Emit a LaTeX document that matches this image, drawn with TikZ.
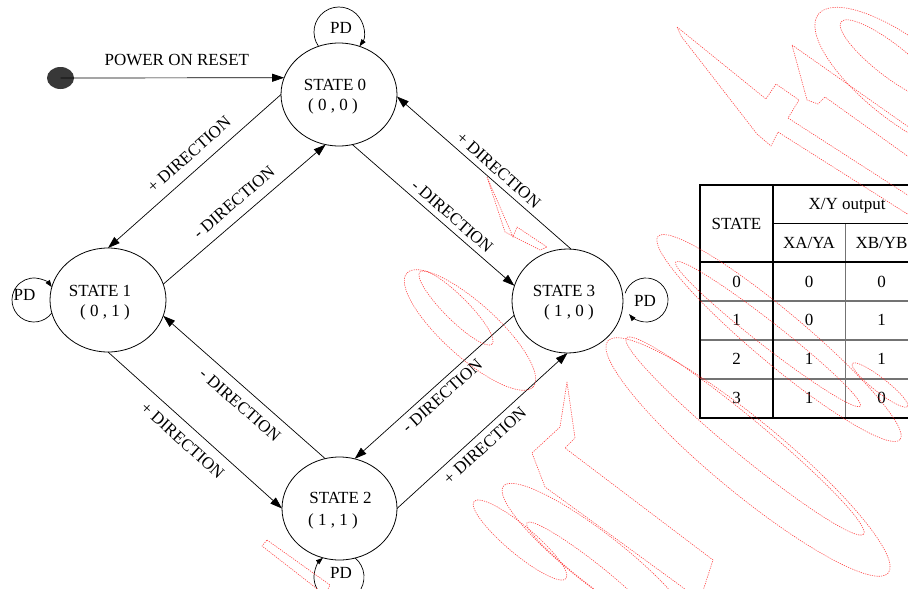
\documentclass[tikz,border=0pt]{standalone}
\usepackage{fontspec}
\setmainfont{Liberation Serif}
\usetikzlibrary{shapes.geometric,arrows.meta}
\newcommand{\diagfont}{\fontsize{17}{20}\selectfont}
\begin{document}
\begin{tikzpicture}[x=1pt,y=-1pt,
  state/.style={ellipse,draw,line width=0.8pt,inner sep=0pt,outer sep=0pt},
  txt/.style={font=\diagfont,inner sep=0pt,anchor=base},
  trans/.style={line width=0.7pt,-{Triangle[length=12pt,width=8pt]}},
  selfloop/.style={line width=0.7pt,-{Triangle[length=7pt,width=5pt]}},
  lblL/.style={font=\diagfont,sloped,inner sep=10pt},
  lblR/.style={font=\diagfont,sloped,inner sep=5.5pt},
  thickrule/.style={line width=1.6pt},
  thinrule/.style={line width=0.9pt},
  greyrule/.style={line width=1.4pt,draw=black!55},
  wm/.style={draw=red!85,line width=0.6pt,dash pattern=on 1.2pt off 1.1pt,opacity=0.85},
]
\useasboundingbox (0,0) rectangle (908,589);
\clip (0,0) rectangle (908,589);

% ---------------- states ----------------
\node[state,minimum width=116pt,minimum height=103pt] (s0) at (339,94.5) {};
\node[state,minimum width=116pt,minimum height=104pt] (s1) at (108,300) {};
\node[state,minimum width=115pt,minimum height=103pt] (s2) at (339.5,508.5) {};
\node[state,minimum width=111pt,minimum height=104pt] (s3) at (567.5,301) {};

\node[txt] (s0a) at (335,90) {STATE 0};
\node[txt] (s0b) at (333,110.5) {( 0 , 0 )};
\node[txt] (s1a) at (100,296.5) {STATE 1};
\node[txt] (s1b) at (105,316) {( 0 , 1 )};
\node[txt] (s2a) at (340.5,503.5) {STATE 2};
\node[txt] (s2b) at (333,525) {( 1 , 1 )};
\node[txt] (s3a) at (564,296.7) {STATE 3};
\node[txt] (s3b) at (569,316) {( 1 , 0 )};

% ---------------- initial pseudo state ----------------
\node[ellipse,fill=black!78,minimum width=27pt,minimum height=22pt,inner sep=0pt] (init) at (60.5,78) {};
\draw[trans] (init.center) -- node[font=\diagfont,pos=.52,above,inner sep=12pt] (por) {POWER ON RESET} (s0.163);

% ---------------- transitions ----------------
\draw[trans] (s0.180) -- node[lblL,pos=.47,above] (l01) {+ DIRECTION} (s1.90);
\draw[trans] (s1.16)  -- node[lblL,pos=.5,above]  (l10) {- DIRECTION} (s0.255);
\draw[trans] (s0.285) -- node[lblR,pos=.57,above] (l03) {- DIRECTION} (s3.164);
\draw[trans] (s3.86)  -- node[lblR,pos=.46,above] (l30) {+ DIRECTION} (s0.358);
\draw[trans] (s2.106) -- node[lblL,pos=.46,below] (l21) {- DIRECTION} (s1.344);
\draw[trans] (s1.270) -- node[lblL,pos=.49,below] (l12) {+ DIRECTION} (s2.180);
\draw[trans] (s3.195) -- node[lblR,pos=.5,below]  (l32) {- DIRECTION} (s2.73);
\draw[trans] (s2.0)   -- node[lblR,pos=.465,below,inner sep=6.5pt] (l23) {+ DIRECTION} (s3.270);

% ---------------- power-down self loops ----------------
\coordinate (pd0) at (339,32);
\coordinate (pd1) at (34,300);
\coordinate (pd2) at (339,577);
\coordinate (pd3) at (646,300);
\draw[selfloop] ([shift={(215:25pt)}]pd0) arc[start angle=215,end angle=-35,radius=25pt];
\draw[selfloop] ([shift={(-36:22pt)}]pd1) arc[start angle=-36,end angle=-324,radius=22pt];
\draw[selfloop] ([shift={(50:25pt)}]pd2) arc[start angle=50,end angle=-230,radius=25pt];
\draw[selfloop] ([shift={(162:22pt)}]pd3) arc[start angle=162,end angle=-140,radius=22pt];
\node[txt] (pd0t) at (341,34) {PD};
\node[txt] (pd1t) at (24.5,300.5) {PD};
\node[txt] (pd2t) at (341,578) {PD};
\node[txt] (pd3t) at (645,306.5) {PD};

% ---------------- output table ----------------
\draw[greyrule] (700,301) -- (918,301) (700,340) -- (918,340) (700,379) -- (918,379);
\draw[greyrule] (845.5,223) -- (845.5,418);
\draw[thinrule] (773,223) -- (918,223);
\draw[thickrule] (918,185) -- (700,185) -- (700,418) -- (918,418);
\draw[thickrule] (773,185) -- (773,418);
\draw[thickrule] (700,262) -- (918,262);

\node[txt] (hstate) at (736.5,229) {STATE};
\node[txt] (hxy) at (847,209.3) {X/Y output};
\node[txt] (hxa) at (809,248.3) {XA/YA};
\node[txt] (hxb) at (881.5,248.3) {XB/YB};
\foreach \r/\yb/\a/\b in {0/287.4/0/0, 1/325.7/0/1, 2/364.7/1/1, 3/403.4/1/0}{
  \node[txt] (st\r) at (736.5,\yb) {\r};
  \node[txt] (xa\r) at (809,\yb) {\a};
  \node[txt] (xb\r) at (881.5,\yb) {\b};
}

% ---------------- dotted red background mark ----------------
\begin{scope}[wm]
  \draw[rotate around={-38:(890,60)}] (890,60) ellipse[x radius=62,y radius=16];
  \draw[rotate around={-38:(905,82)}] (905,82) ellipse[x radius=110,y radius=40];
  \draw (677,27) -- (766,99) -- (776,84) -- (799,100) -- (788,118) -- (920,203)
        -- (920,222) -- (778,132) -- (771,146) -- (757,134) -- (681,36) -- cycle;
  \draw (792,45) -- (920,135) -- (920,165) -- (825,97) -- (818,104) -- (807,100) -- cycle;
  \draw[rotate around={-40:(779,338)}] (779,338) ellipse[x radius=158,y radius=26];
  \draw[rotate around={-38:(768,334)}] (768,334) ellipse[x radius=117,y radius=12];
  \draw[rotate around={-39.6:(745,436)}] (745,436) ellipse[x radius=154,y radius=18];
  \draw[rotate around={-39.6:(748,457)}] (748,457) ellipse[x radius=182,y radius=36];
  \draw[rotate around={-45:(456,308)}] (456,308) ellipse[x radius=51,y radius=12];
  \draw[rotate around={-42:(470,330)}] (470,330) ellipse[x radius=85,y radius=27];
  \draw[rotate around={-38:(598,560)}] (598,560) ellipse[x radius=120,y radius=26];
  \draw[rotate around={-38:(590,572)}] (590,572) ellipse[x radius=80,y radius=11];
  \draw[rotate around={-38:(880,385)}] (880,385) ellipse[x radius=35,y radius=7];
  \draw (567,382) -- (575,438) -- (565,448) -- (713,560) -- (700,600) -- (545,487)
        -- (532,453) -- (560,427) -- cycle;
  \draw (487,177) -- (513,237) -- (517,227) -- (547,247) -- (540,250) -- (505,232) -- cycle;
  \draw (267,540) -- (330,585) -- (325,595) -- (262,546) -- cycle;
  \draw[rotate around={-40:(520,540)}] (520,540) ellipse[x radius=60,y radius=14];
\end{scope}
\end{tikzpicture}
\end{document}
